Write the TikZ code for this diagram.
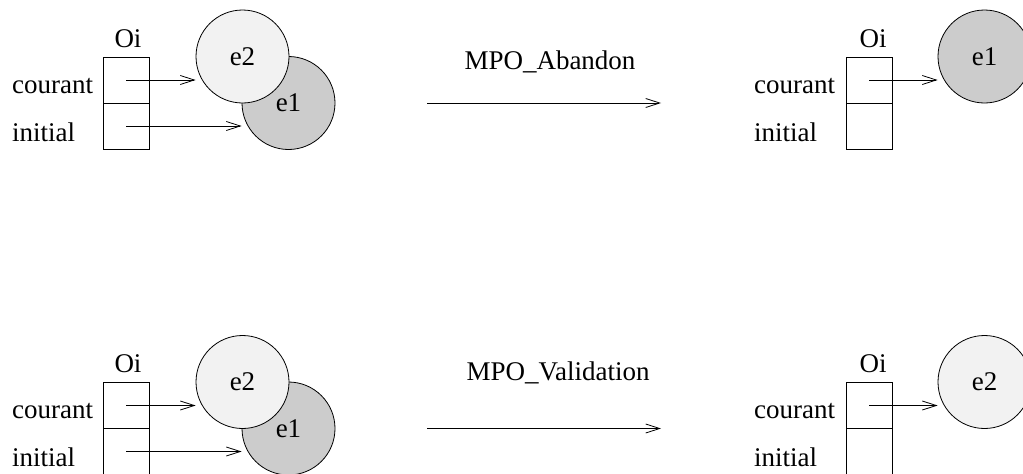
\documentclass[tikz,border=0pt]{standalone}
\usepackage{fontspec}
\setmainfont{Liberation Serif}
\usetikzlibrary{positioning}
\usetikzlibrary{arrows.meta}
\definecolor{cl}{RGB}{242, 242, 242}
\definecolor{cd}{RGB}{204, 204, 204}
\tikzset{
  cell/.style={rectangle, minimum width=46pt, minimum height=46pt, inner sep=0pt, line width=0.8pt, draw=black},
  etat/.style={circle, minimum size=93pt, inner sep=0pt, line width=0.8pt, draw=black, font=\fontsize{27}{32}\selectfont},
  ptr/.style={line width=0.8pt, -{Straight Barb[length=14pt, width=9pt]}},
  txt/.style={inner sep=0pt, font=\fontsize{27}{32}\selectfont},
}
\begin{document}
\begin{tikzpicture}
\useasboundingbox (0pt, 0pt) rectangle (1023pt, -474pt);
% haut gauche
\node (oi1) [txt, anchor=base] at (128.0pt, -47.0pt) {Oi};
\node (c1) [cell] at (126.0pt, -80.0pt) {};
\node (i1) [cell] at (126.0pt, -126.0pt) {};
\node (lc1) [txt, anchor=base west] at (12.0pt, -93.0pt) {courant};
\node (li1) [txt, anchor=base west] at (12.0pt, -141.0pt) {initial};
\node (ea1) [etat, fill=cd] at (288.5pt, -103.0pt) {e1};
\node (eb1) [etat, fill=cl] at (242.5pt, -56.5pt) {e2};
\draw [ptr] (c1.center) to (c1.center -| eb1.west);
\draw [ptr] (i1.center) to (i1.center -| ea1.west);
% MPO_Abandon
\coordinate (m1) at (427.0pt, -103.0pt);
\coordinate (n1) at (661.0pt, -103.0pt);
\draw [ptr] (m1) to (n1);
\node (op1) [txt] at (550.0pt, -62.0pt) {MPO\_Abandon};
% haut droite
\node (oi2) [txt, anchor=base] at (873.0pt, -47.0pt) {Oi};
\node (c2) [cell] at (869.0pt, -80.0pt) {};
\node (i2) [cell] at (869.0pt, -126.0pt) {};
\node (lc2) [txt, anchor=base west] at (754.0pt, -93.0pt) {courant};
\node (li2) [txt, anchor=base west] at (754.0pt, -141.0pt) {initial};
\node (ea2) [etat, fill=cd] at (984.5pt, -56.5pt) {e1};
\draw [ptr] (c2.center) to (c2.center -| ea2.west);
% bas gauche
\node (oi3) [txt, anchor=base] at (128.0pt, -372.5pt) {Oi};
\node (c3) [cell] at (126.0pt, -405.5pt) {};
\node (i3) [cell] at (126.0pt, -451.5pt) {};
\node (lc3) [txt, anchor=base west] at (12.0pt, -418.5pt) {courant};
\node (li3) [txt, anchor=base west] at (12.0pt, -466.5pt) {initial};
\node (ea3) [etat, fill=cd] at (288.5pt, -428.5pt) {e1};
\node (eb3) [etat, fill=cl] at (242.5pt, -382.0pt) {e2};
\draw [ptr] (c3.center) to (c3.center -| eb3.west);
\draw [ptr] (i3.center) to (i3.center -| ea3.west);
% MPO_Validation
\coordinate (m2) at (427.0pt, -428.5pt);
\coordinate (n2) at (661.0pt, -428.5pt);
\draw [ptr] (m2) to (n2);
\node (op2) [txt] at (558.0pt, -373.0pt) {MPO\_Validation};
% bas droite
\node (oi4) [txt, anchor=base] at (873.0pt, -372.5pt) {Oi};
\node (c4) [cell] at (869.0pt, -405.5pt) {};
\node (i4) [cell] at (869.0pt, -451.5pt) {};
\node (lc4) [txt, anchor=base west] at (754.0pt, -418.5pt) {courant};
\node (li4) [txt, anchor=base west] at (754.0pt, -466.5pt) {initial};
\node (eb4) [etat, fill=cl] at (984.5pt, -382.0pt) {e2};
\draw [ptr] (c4.center) to (c4.center -| eb4.west);
\end{tikzpicture}
\end{document}
